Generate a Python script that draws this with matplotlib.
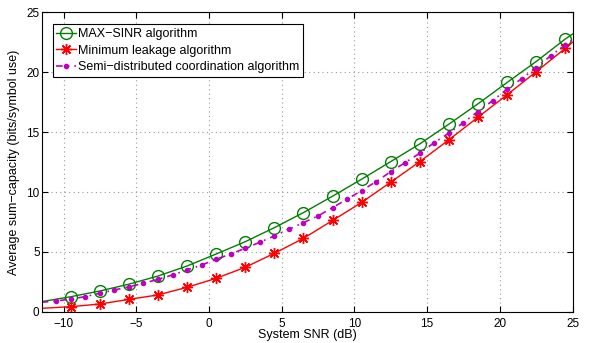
import matplotlib.pyplot as plt
import numpy as np

plt.rcParams['font.family'] = ['Liberation Sans', 'DejaVu Sans']

# Data
snr_marks = [-11.5, -9.5, -7.5, -5.5, -3.5, -1.5, 0.5, 2.5, 4.5, 6.5, 8.5,
             10.5, 12.5, 14.5, 16.5, 18.5, 20.5, 22.5, 24.5, 25]
max_sinr = [0.84, 1.25, 1.73, 2.3, 2.98, 3.82, 4.82, 5.85, 7.02, 8.28, 9.65,
            11.07, 12.54, 14.02, 15.67, 17.37, 19.15, 20.9, 22.78, 23.2]
min_leak = [0.28, 0.42, 0.64, 1.03, 1.40, 2.04, 2.79, 3.71, 4.88, 6.13, 7.62,
            9.13, 10.82, 12.54, 14.36, 16.25, 18.12, 20.05, 22.0, 22.5]

snr_semi = [-11.5, -10.5, -9.5, -8.5, -7.5, -6.5, -5.5, -4.5, -3.5, -2.5, -1.5,
            -0.5, 0.5, 1.5, 2.5, 3.5, 4.5, 5.5, 6.5, 7.5, 8.5, 9.5, 10.5, 11.5,
            12.5, 13.5, 14.5, 15.5, 16.5, 17.5, 18.5, 19.5, 20.5, 21.5, 22.5,
            23.5, 24.5, 25]
semi_dist = [0.79, 0.89, 1.06, 1.26, 1.54, 1.81, 2.09, 2.37, 2.71, 3.07, 3.49,
             3.9, 4.38, 4.82, 5.3, 5.8, 6.33, 6.89, 7.44, 8.0, 8.7, 9.4, 10.12,
             10.87, 11.7, 12.46, 13.24, 14.13, 14.92, 15.8, 16.72, 17.62, 18.6,
             19.46, 20.4, 21.38, 22.3, 22.7]

fig = plt.figure(figsize=(5.89, 3.43), dpi=100)
ax = fig.add_axes([0.0708, 0.0913, 0.9012, 0.8723])

ax.plot(snr_marks, max_sinr, color='#008000', lw=1, marker='o', ms=8.5,
        mfc='none', mew=1, markevery=range(1, len(snr_marks) - 1),
        label='MAX\u2212SINR algorithm')
ax.plot(snr_marks, min_leak, color='red', lw=1, marker=(8, 2, 0), ms=8,
        mew=1, markevery=range(1, len(snr_marks) - 1),
        label='Minimum leakage algorithm')
ax.plot(snr_semi, semi_dist, color='#bf00bf', lw=1.2, ls=(0, (4, 3, 1, 3)),
        marker='o', ms=3, markevery=range(1, len(snr_semi) - 1),
        label='Semi\u2212distributed coordination algorithm')

ax.set_xlim(-11.5, 25)
ax.set_ylim(0, 25)
ax.set_xticks([-10, -5, 0, 5, 10, 15, 20, 25])
ax.set_yticks([0, 5, 10, 15, 20, 25])
ax.tick_params(direction='in', top=True, right=True, labelsize=8.5, length=4)
ax.tick_params(axis='y', pad=1.5)
ax.tick_params(axis='x', pad=4.5)
ax.grid(True, ls=(0, (1, 3)), color='#999999', lw=0.8)

ax.set_xlabel('System SNR (dB)', fontsize=9, labelpad=-0.5)
ax.set_ylabel('Average sum\u2212capacity (bits/symbol use)', fontsize=9)
ax.yaxis.set_label_coords(-0.041, 0.5)

leg = ax.legend(loc='upper left', bbox_to_anchor=(0.0207, 0.96), fontsize=9,
                fancybox=False, framealpha=1, edgecolor='black',
                handlelength=1.6, borderpad=0.3, labelspacing=0.35,
                handletextpad=0.15, borderaxespad=0)
leg.get_frame().set_linewidth(0.8)

fig.savefig('out.png', dpi=100)
